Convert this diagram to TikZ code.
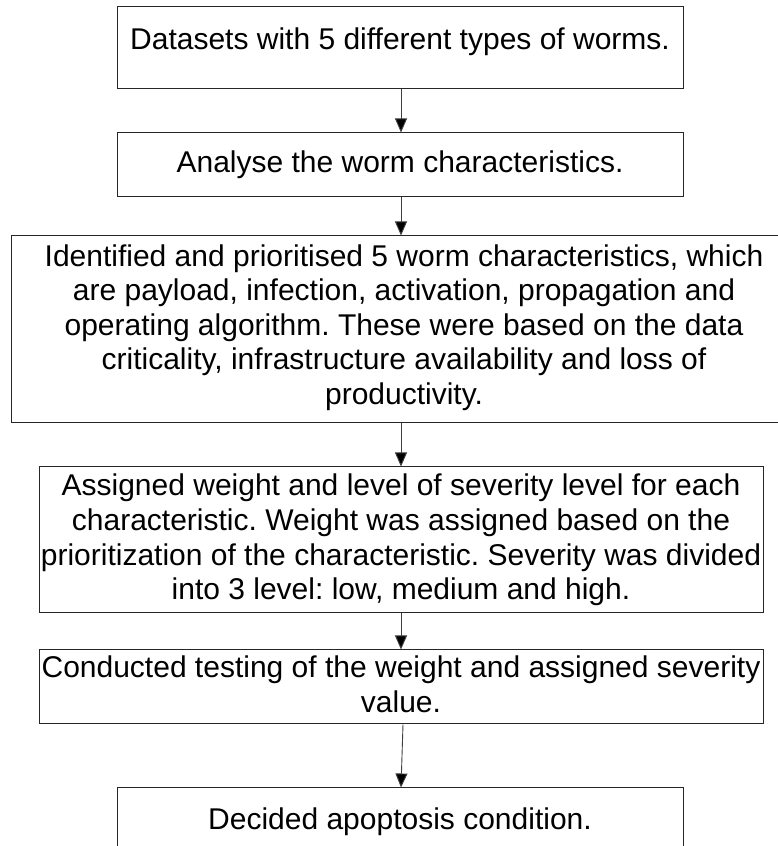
\documentclass[tikz,border=0pt]{standalone}
\usepackage{fontspec}
\setmainfont{Liberation Sans}
\usetikzlibrary{arrows.meta}
\begin{document}
\frenchspacing
\begin{tikzpicture}[x=1pt,y=1pt,
  stepbox/.style={draw=black!85,line width=1pt,fill=white,inner sep=0pt},
  lbl/.style={align=center,inner sep=0pt,font=\fontsize{30}{34.6}\selectfont},
  flow/.style={draw=black!75,line width=0.9pt,-{Triangle[width=12pt,length=14pt,fill=black]}}]
\useasboundingbox (0,0) rectangle (778,846);
\fill[white] (0,0) rectangle (778,846);

% process boxes (top to bottom)
\node[stepbox,minimum width=566,minimum height=82]  (b1) at (400,798) {};
\node[stepbox,minimum width=566,minimum height=64]  (b2) at (400,681) {};
\node[stepbox,minimum width=786,minimum height=187] (b3) at (404,516.5) {};
\node[stepbox,minimum width=724,minimum height=146] (b4) at (401,306) {};
\node[stepbox,minimum width=724,minimum height=74]  (b5) at (401,159) {};
\node[stepbox,minimum width=566,minimum height=64]  (b6) at (400,26) {};

% box texts
\node[lbl] (t1) at ([yshift=6]b1.center) {Datasets with 5 different types of worms.};
\node[lbl] (t2) at (b2.center) {Analyse the worm characteristics.};
\node[lbl] (t3) at ([yshift=2]b3.center) {Identified and prioritised 5 worm characteristics, which\\
  are payload, infection, activation, propagation and\\
  operating algorithm. These were based on the data\\
  criticality, infrastructure availability and loss of\\
  productivity.};
\node[lbl] (t4) at ([yshift=0]b4.center) {Assigned weight and level of severity level for each\\
  characteristic. Weight was assigned based on the\\
  prioritization of the characteristic. Severity was divided\\
  into 3 level: low, medium and high.};
\node[lbl] (t5) at ([yshift=3]b5.center) {Conducted testing of the weight and assigned severity\\
  value.};
\node[lbl] (t6) at ([yshift=-2]b6.center) {Decided apoptosis condition.};

% connectors
\draw[flow] ([xshift=1]b1.south) -- ([xshift=1]b2.north);
\draw[flow] ([xshift=1]b2.south) -- ([xshift=-3]b3.north);
\draw[flow] ([xshift=-3]b3.south) -- (b4.north);
\draw[flow] (b4.south) -- (b5.north);
\draw[flow] ([xshift=2]b5.south) -- ([xshift=1]b6.north);
\end{tikzpicture}
\end{document}
